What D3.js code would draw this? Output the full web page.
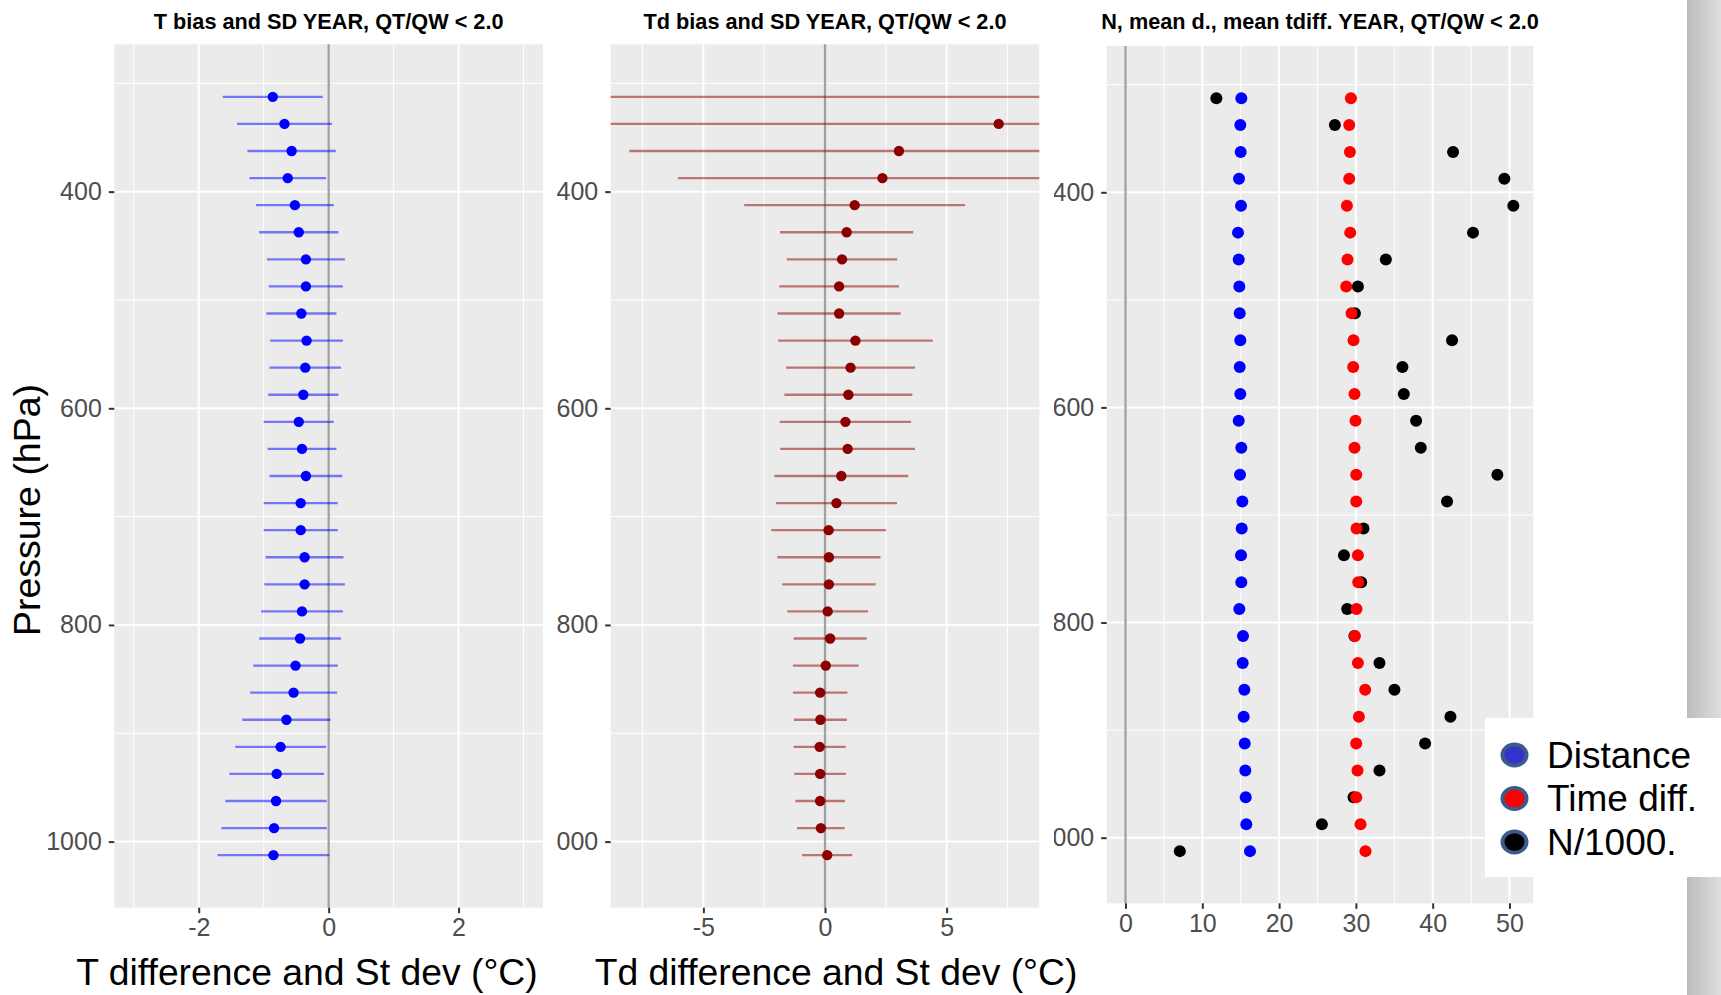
<!DOCTYPE html>
<html>
<head>
<meta charset="utf-8">
<script src="https://cdn.jsdelivr.net/npm/d3@7"></script>
<style>
    body { margin: 0; background: #ffffff; }
    svg { display: block; font-family: "Liberation Sans", Arial, sans-serif; }
</style>
</head>
<body>
<div id="chart"></div>
<script>

/* datos: niveles de presion (hPa) */
var levels = [312.5, 337.5, 362.5, 387.5, 412.5, 437.5, 462.5, 487.5, 512.5, 537.5,
              562.5, 587.5, 612.5, 637.5, 662.5, 687.5, 712.5, 737.5, 762.5, 787.5,
              812.5, 837.5, 862.5, 887.5, 912.5, 937.5, 962.5, 987.5, 1012.5];

/* T: diferencia media y desviacion (°C) */
var tMean = [-0.86, -0.68, -0.57, -0.63, -0.52, -0.46, -0.35, -0.35, -0.42, -0.34,
             -0.36, -0.39, -0.46, -0.41, -0.35, -0.43, -0.43, -0.37, -0.37, -0.41,
             -0.44, -0.51, -0.54, -0.65, -0.74, -0.80, -0.81, -0.84, -0.85];
var tSd = [0.77, 0.73, 0.68, 0.59, 0.60, 0.61, 0.60, 0.57, 0.54, 0.56,
           0.55, 0.54, 0.54, 0.53, 0.56, 0.57, 0.57, 0.60, 0.62, 0.63,
           0.63, 0.65, 0.67, 0.68, 0.70, 0.73, 0.78, 0.81, 0.86];

/* Td: diferencia media y desviacion (°C) */
var tdMean = [9.6, 7.14, 3.04, 2.36, 1.22, 0.89, 0.70, 0.58, 0.58, 1.25,
              1.05, 0.96, 0.84, 0.93, 0.67, 0.47, 0.15, 0.16, 0.16, 0.11,
              0.21, 0.03, -0.20, -0.19, -0.22, -0.20, -0.20, -0.17, 0.09];
var tdSd = [20.0, 17.5, 11.08, 8.41, 4.54, 2.74, 2.27, 2.46, 2.53, 3.18,
            2.65, 2.63, 2.70, 2.77, 2.75, 2.49, 2.36, 2.12, 1.92, 1.66,
            1.50, 1.35, 1.12, 1.09, 1.07, 1.06, 1.02, 0.98, 1.03];

/* panel 3: distancia, diferencia de tiempo, N/1000 */
var distance = [15.08, 14.95, 15.00, 14.78, 15.04, 14.65, 14.74, 14.82, 14.87, 14.95,
                14.87, 14.95, 14.74, 15.08, 14.91, 15.21, 15.13, 15.04, 15.08, 14.82,
                15.30, 15.26, 15.47, 15.39, 15.52, 15.60, 15.65, 15.73, 16.21];
var timeDiff = [29.35, 29.13, 29.22, 29.13, 28.83, 29.26, 28.91, 28.74, 29.43, 29.69,
                29.65, 29.82, 29.95, 29.82, 30.04, 30.04, 30.08, 30.26, 30.30, 30.08,
                29.87, 30.26, 31.21, 30.39, 30.04, 30.21, 30.04, 30.60, 31.25];
var nObs = [11.83, 27.26, 42.65, 49.33, 50.50, 45.25, 33.90, 30.26, 29.87, 42.52,
            36.06, 36.24, 37.84, 38.45, 48.42, 41.87, 30.99, 28.44, 30.69, 28.87,
            29.80, 33.07, 35.02, 42.31, 39.01, 33.07, 29.69, 25.57, 7.07];

/* ticks */
var yTicks = [400, 600, 800, 1000];
var yMinor = [300, 500, 700, 900];
var t1Ticks = [-2, 0, 2];
var t1Minor = [-3, -1, 1, 3];
var t2Ticks = [-5, 0, 5];
var t2Minor = [-7.5, -2.5, 2.5, 7.5];
var t3Ticks = [0, 10, 20, 30, 40, 50];
var t3Minor = [5, 15, 25, 35, 45];

var legendNames = ["Distance", "Time diff.", "N/1000."];
var legendColors = ["#3333cc", "#ff0000", "#000000"];

var W = 1721, H = 995;
var svg = d3.select("#chart").append("svg").attr("width", W).attr("height", H);
var defs = svg.append("defs");

function clip(id, x, y, w, h) {
    defs.append("clipPath").attr("id", id)
        .append("rect").attr("x", x).attr("y", y).attr("width", w).attr("height", h);
    return "url(#" + id + ")";
}

/* fondo gris, rejilla, ejes y titulo de un panel */
function frame(g, x, y, xTicks, xMinor, title) {
    var x0 = x.range()[0], x1 = x.range()[1];
    var y0 = y.range()[0], y1 = y.range()[1];

    g.append("rect")
        .attr("x", x0).attr("y", y0)
        .attr("width", x1 - x0).attr("height", y1 - y0)
        .attr("fill", "#ebebeb");

    g.selectAll(".ymin").data(yMinor).enter().append("line")
        .attr("x1", x0).attr("x2", x1)
        .attr("y1", function (d) { return y(d); })
        .attr("y2", function (d) { return y(d); })
        .attr("stroke", "#ffffff").attr("stroke-width", 1);
    g.selectAll(".xmin").data(xMinor).enter().append("line")
        .attr("y1", y0).attr("y2", y1)
        .attr("x1", function (d) { return x(d); })
        .attr("x2", function (d) { return x(d); })
        .attr("stroke", "#ffffff").attr("stroke-width", 1);
    g.selectAll(".ymaj").data(yTicks).enter().append("line")
        .attr("x1", x0).attr("x2", x1)
        .attr("y1", function (d) { return y(d); })
        .attr("y2", function (d) { return y(d); })
        .attr("stroke", "#ffffff").attr("stroke-width", 2);
    g.selectAll(".xmaj").data(xTicks).enter().append("line")
        .attr("y1", y0).attr("y2", y1)
        .attr("x1", function (d) { return x(d); })
        .attr("x2", function (d) { return x(d); })
        .attr("stroke", "#ffffff").attr("stroke-width", 2);

    // linea vertical en 0
    g.append("line")
        .attr("x1", x(0)).attr("x2", x(0))
        .attr("y1", y0).attr("y2", y1)
        .attr("stroke", "#a0a0a0").attr("stroke-width", 2.3);

    var ay = g.append("g")
        .attr("transform", "translate(" + x0 + ",0)")
        .call(d3.axisLeft(y).tickValues(yTicks).tickSize(5.5).tickPadding(7)
            .tickFormat(function (d) { return String(d); }));
    var ax = g.append("g")
        .attr("transform", "translate(0," + y1 + ")")
        .call(d3.axisBottom(x).tickValues(xTicks).tickSize(5.5).tickPadding(5)
            .tickFormat(function (d) { return String(d); }));
    [ay, ax].forEach(function (a) {
        a.attr("font-family", null).attr("font-size", 25);
        a.select(".domain").remove();
        a.selectAll(".tick line").attr("stroke", "#333333").attr("stroke-width", 2);
        a.selectAll(".tick text").attr("fill", "#4d4d4d");
    });

    g.append("text")
        .attr("x", (x0 + x1) / 2).attr("y", 28.5)
        .attr("text-anchor", "middle")
        .attr("font-weight", "bold").attr("font-size", 21.7)
        .attr("fill", "#000000")
        .text(title);
}

/* panel de diferencia media con barra de desviacion */
function biasPanel(g, x, y, mean, sd, barColor, dotColor, cid) {
    var inner = g.append("g").attr("clip-path", clip(cid, x.range()[0], y.range()[0],
        x.range()[1] - x.range()[0], y.range()[1] - y.range()[0]));
    var rows = levels.map(function (p, i) { return { p: p, m: mean[i], s: sd[i] }; });

    inner.selectAll(".bar").data(rows).enter().append("line")
        .attr("x1", function (d) { return x(d.m - d.s); })
        .attr("x2", function (d) { return x(d.m + d.s); })
        .attr("y1", function (d) { return y(d.p); })
        .attr("y2", function (d) { return y(d.p); })
        .attr("stroke", barColor).attr("stroke-opacity", 0.5)
        .attr("stroke-width", 2.4);
    inner.selectAll(".dot").data(rows).enter().append("circle")
        .attr("cx", function (d) { return x(d.m); })
        .attr("cy", function (d) { return y(d.p); })
        .attr("r", 5.2)
        .attr("fill", dotColor);
}

/* panel 1: T */
var y1 = d3.scaleLinear().domain([264, 1061]).range([44.3, 907.7]);
var x1 = d3.scaleLinear().domain([-3.3, 3.3]).range([114.3, 543]);
var g1 = svg.append("g");
frame(g1, x1, y1, t1Ticks, t1Minor, "T bias and SD YEAR, QT/QW < 2.0");
biasPanel(g1, x1, y1, tMean, tSd, "#0000ff", "#0000ff", "c1");

/* panel 2: Td */
var x2 = d3.scaleLinear().domain([-8.81, 8.81]).range([610.7, 1039.3]);
var g2 = svg.append("g").attr("clip-path", clip("o2", 557, 0, 500, H));
frame(g2, x2, y1, t2Ticks, t2Minor, "Td bias and SD YEAR, QT/QW < 2.0");
biasPanel(g2, x2, y1, tdMean, tdSd, "#8b0000", "#8b0000", "c2");

/* panel 3: N, distancia, tiempo */
var y3 = d3.scaleLinear().domain([264, 1061]).range([46, 903.3]);
var x3 = d3.scaleLinear().domain([-2.45, 53.1]).range([1106.7, 1533.3]);
var g3 = svg.append("g").attr("clip-path", clip("o3", 1054, 0, 668, H));
frame(g3, x3, y3, t3Ticks, t3Minor, "N, mean d., mean tdiff. YEAR, QT/QW < 2.0");

[[nObs, "#000000"], [distance, "#0000ff"], [timeDiff, "#ff0000"]].forEach(function (s) {
    g3.append("g").selectAll("circle")
        .data(s[0]).enter().append("circle")
        .attr("cx", function (d) { return x3(d); })
        .attr("cy", function (d, i) { return y3(levels[i]); })
        .attr("r", 6)
        .attr("fill", s[1]);
});

/* titulos de ejes */
svg.append("text")
    .attr("transform", "translate(40,510) rotate(-90)")
    .attr("text-anchor", "middle").attr("font-size", 37.5)
    .text("Pressure (hPa)");
svg.append("text")
    .attr("x", 307).attr("y", 985)
    .attr("text-anchor", "middle").attr("font-size", 37.3)
    .text("T difference and St dev (°C)");
svg.append("text")
    .attr("x", 836).attr("y", 985)
    .attr("text-anchor", "middle").attr("font-size", 37.3)
    .text("Td difference and St dev (°C)");

/* franja gris a la derecha */
var grad = defs.append("linearGradient").attr("id", "strip");
grad.append("stop").attr("offset", "0%").attr("stop-color", "#bcbcbc");
grad.append("stop").attr("offset", "100%").attr("stop-color", "#dedede");
svg.append("rect")
    .attr("x", 1687).attr("y", 0).attr("width", 34).attr("height", H)
    .attr("fill", "url(#strip)");

/* leyenda */
var leg = svg.append("g");
leg.append("rect")
    .attr("x", 1485).attr("y", 718).attr("width", 236).attr("height", 159)
    .attr("fill", "#ffffff");
var legY = d3.scalePoint().domain(legendNames).range([755, 842]);
var items = leg.selectAll(".item").data(legendNames).enter().append("g")
    .attr("transform", function (d) { return "translate(0," + legY(d) + ")"; });
items.append("ellipse")
    .attr("cx", 1514.5).attr("cy", 0).attr("rx", 14).attr("ry", 12.5)
    .attr("fill", "#3d5b8a");
items.append("ellipse")
    .attr("cx", 1514.5).attr("cy", 0).attr("rx", 10).attr("ry", 8.8)
    .attr("fill", function (d, i) { return legendColors[i]; });
items.append("text")
    .attr("x", 1547).attr("y", 0).attr("dy", "0.35em")
    .attr("font-size", 37)
    .text(function (d) { return d; });

</script>
</body>
</html>
